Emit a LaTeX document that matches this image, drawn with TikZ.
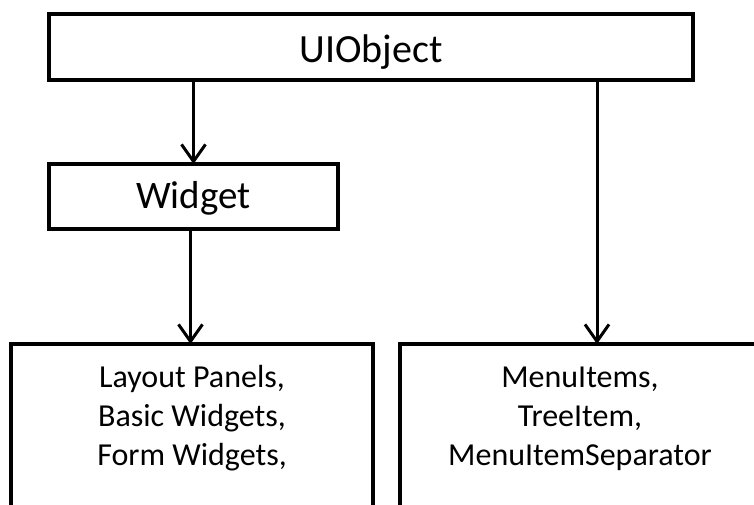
\documentclass[tikz,border=0pt]{standalone}
\usepackage{fontspec}
\setmainfont{Carlito}
\usetikzlibrary{arrows.meta,positioning}

\begin{document}
\begin{tikzpicture}
[
x=1pt, y=-1pt,
Box/.style={rectangle, draw=black, line width=3.5pt, inner sep=0pt, outer sep=0pt},
Title/.style={font=\fontsize{40}{48}\selectfont},
Subtitle/.style={font=\fontsize{39}{47}\selectfont},
List/.style={align=center, inner sep=0pt, font=\fontsize{32}{39}\selectfont},
Arrow/.style={-{Straight Barb[length=17pt,width=24pt]}, line width=3pt, draw=black}
]
\useasboundingbox (0,0) rectangle (754,504);
\clip (0,0) rectangle (754,504);

\node[Box, Title, minimum width=644, minimum height=66, text height=30pt, text depth=0pt] (uiobject) at (371,47) {UIObject};
\node[Box, Subtitle, minimum width=289, minimum height=65, text height=25pt, text depth=2pt] (widget) at (193.5,196.5) {Widget};

\node[Box, minimum width=362, minimum height=200, anchor=north west] (widgetlist) at (11,344) {};
\node[Box, minimum width=360, minimum height=200, anchor=north west] (menulist) at (400,344) {};

\node[List, below=16pt of widgetlist.north] (widgetitems) {\strut Layout Panels,\\Basic Widgets,\\Form Widgets,};
\node[List, below=16pt of menulist.north] (menuitems) {\strut MenuItems,\\TreeItem,\\MenuItemSeparator};

\draw[Arrow] (uiobject.south -| widget.north) -- (widget.north);
\draw[Arrow] ([xshift=-3pt]widget.south) -- ([xshift=-3pt]widget.south |- widgetlist.north);
\draw[Arrow] ([xshift=17pt]menulist.north |- uiobject.south) -- ([xshift=17pt]menulist.north);
\end{tikzpicture}
\end{document}
